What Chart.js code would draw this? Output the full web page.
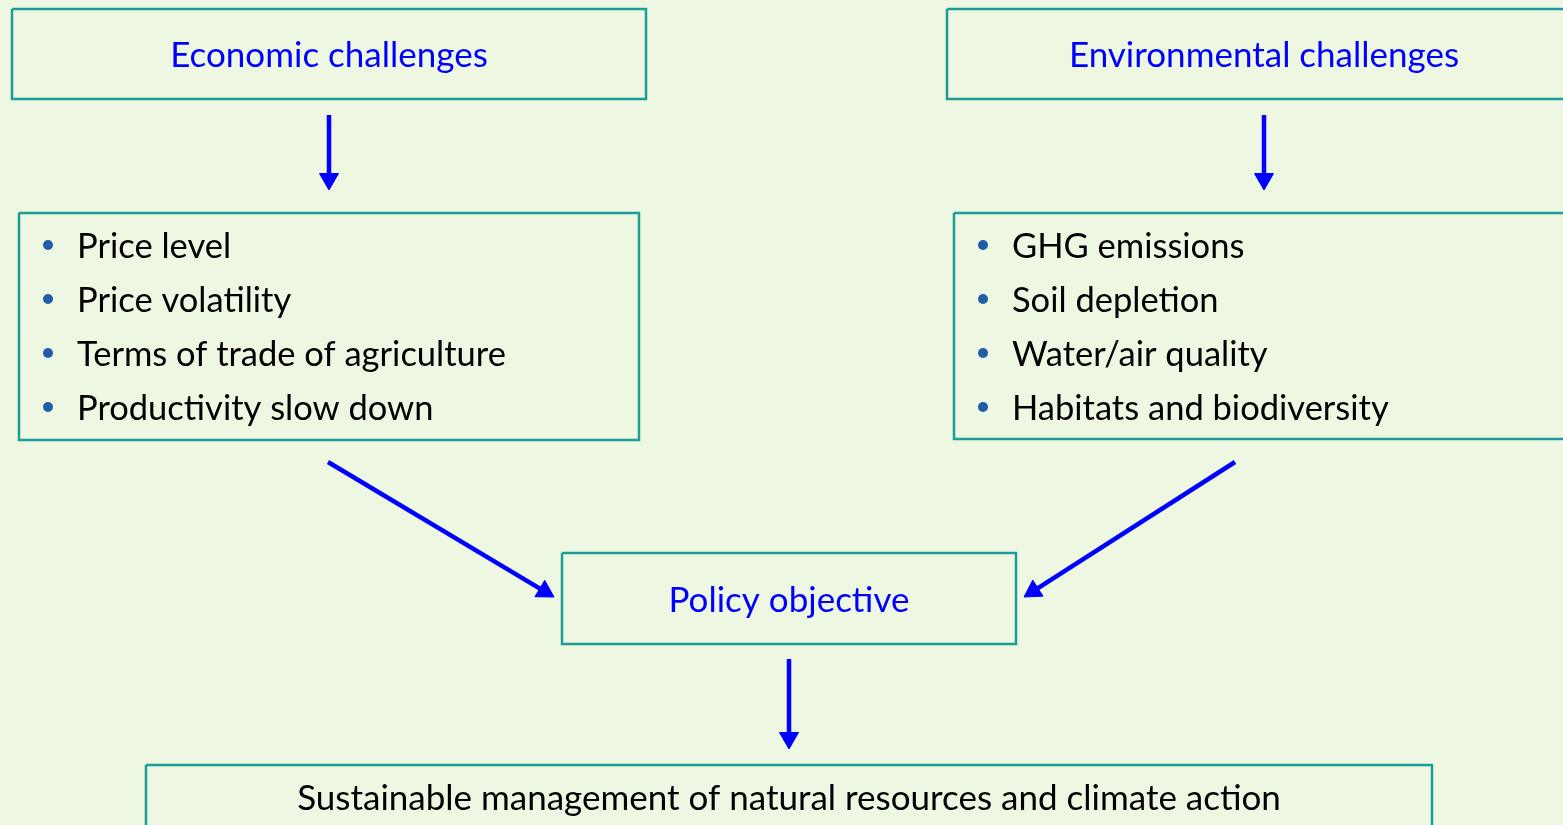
<!DOCTYPE html>
<html>
<head>
<meta charset="utf-8">
<script src="https://cdn.jsdelivr.net/npm/chart.js@4/dist/chart.umd.min.js"></script>
<style>
  html, body { margin: 0; padding: 0; background: #EEF7E2; }
  #wrap { width: 1563px; height: 825px; }
</style>
</head>
<body>
<div id="wrap"><canvas id="myChart" width="1563" height="825"></canvas></div>
<script>
// Texte des boîtes
const headerLabels = ['Economic challenges', 'Environmental challenges'];
const policyLabel = 'Policy objective';
const outcomeLabel = 'Sustainable management of natural resources and climate action';
const economicItems = ['Price level', 'Price volatility', 'Terms of trade of agriculture', 'Productivity slow down'];
const environmentalItems = ['GHG emissions', 'Soil depletion', 'Water/air quality', 'Habitats and biodiversity'];

// Mise en page (coordonnées en pixels du canevas)
const layout = {
  headerBoxes: [[12, 9, 646, 99], [947, 9, 1580, 99]],
  listBoxes: [[19, 213, 639, 440], [954, 213, 1580, 439]],
  policyBox: [562, 553, 1016, 644],
  outcomeBox: [146, 765, 1432, 840],
  listRows: [245, 299, 353, 407],
  bulletX: [48, 983],
  textOffset: 29,
  textShift: 2,
  outcomeTextY: 797,
  arrows: [
    [329, 115, 329, 190],
    [1264, 115, 1264, 190],
    [328, 462, 554, 597],
    [1235, 462, 1024, 597],
    [789, 659, 789, 749],
  ],
  headSize: 11,
};

const teal = '#1A9E96';
const arrowBlue = '#0000FF';
const fontFamily = 'Lato, "Open Sans", sans-serif';

function boxPoints(b) {
  return [
    { x: b[0], y: b[1] }, { x: b[2], y: b[1] },
    { x: b[2], y: b[3] }, { x: b[0], y: b[3] }, { x: b[0], y: b[1] },
  ];
}

var datasets = [];
var allBoxes = layout.headerBoxes.concat(layout.listBoxes, [layout.policyBox, layout.outcomeBox]);
allBoxes.forEach(function (b) {
  datasets.push({
    data: boxPoints(b),
    showLine: true,
    borderColor: teal,
    borderWidth: 2.5,
    borderJoinStyle: 'miter',
    pointRadius: 0,
    fill: false,
  });
});

// Flèches : trait + pointe triangulaire
layout.arrows.forEach(function (a) {
  const dx = a[2] - a[0], dy = a[3] - a[1];
  const len = Math.sqrt(dx * dx + dy * dy);
  const r = layout.headSize;
  const end = { x: a[2] - dx / len * r, y: a[3] - dy / len * r };
  const rot = Math.atan2(dx, -dy) * 180 / Math.PI;
  datasets.push({
    data: [{ x: a[0], y: a[1] }, end],
    showLine: true,
    borderColor: arrowBlue,
    borderWidth: 4.5,
    borderCapStyle: 'butt',
    pointStyle: 'triangle',
    pointRadius: [0, r],
    pointRotation: rot,
    pointBackgroundColor: arrowBlue,
    pointBorderColor: arrowBlue,
    pointBorderWidth: 1,
  });
});

// Puces
[economicItems, environmentalItems].forEach(function (items, i) {
  datasets.push({
    data: items.map(function (_, k) { return { x: layout.bulletX[i], y: layout.listRows[k] }; }),
    pointRadius: 5,
    pointBackgroundColor: '#1F5DA8',
    pointBorderWidth: 0,
    showLine: false,
  });
});

const textPlugin = {
  id: 'diagramText',
  afterDatasetsDraw: function (chart) {
    const ctx = chart.ctx;
    const xs = chart.scales.x, ys = chart.scales.y;
    const s = layout.textShift;
    ctx.save();
    ctx.textBaseline = 'middle';
    ctx.font = '35px ' + fontFamily;

    // En-têtes bleus
    ctx.fillStyle = '#0000FF';
    ctx.textAlign = 'center';
    layout.headerBoxes.forEach(function (b, i) {
      const cx = i === 1 ? 1264 : (b[0] + b[2]) / 2;
      ctx.fillText(headerLabels[i], xs.getPixelForValue(cx), ys.getPixelForValue((b[1] + b[3]) / 2 + s));
    });
    const p = layout.policyBox;
    ctx.fillText(policyLabel, xs.getPixelForValue((p[0] + p[2]) / 2), ys.getPixelForValue((p[1] + p[3]) / 2 + s));

    // Textes noirs
    ctx.fillStyle = '#000000';
    const o = layout.outcomeBox;
    ctx.fillText(outcomeLabel, xs.getPixelForValue((o[0] + o[2]) / 2), ys.getPixelForValue(layout.outcomeTextY + s));

    ctx.font = '34.5px ' + fontFamily;
    ctx.textAlign = 'left';
    [economicItems, environmentalItems].forEach(function (items, i) {
      items.forEach(function (t, k) {
        ctx.fillText(t, xs.getPixelForValue(layout.bulletX[i] + layout.textOffset), ys.getPixelForValue(layout.listRows[k] + s));
      });
    });
    ctx.restore();
  },
};

var ctx = document.getElementById('myChart').getContext('2d');
var myChart = new Chart(ctx, {
  type: 'scatter',
  data: { datasets: datasets },
  options: {
    responsive: false,
    maintainAspectRatio: false,
    animation: false,
    layout: { padding: 0, autoPadding: false },
    plugins: {
      legend: { display: false },
      tooltip: { enabled: false },
    },
    scales: {
      x: { type: 'linear', min: 0, max: 1563, display: false },
      y: { type: 'linear', min: 0, max: 825, reverse: true, display: false },
    },
  },
  plugins: [textPlugin],
});
</script>
</body>
</html>
